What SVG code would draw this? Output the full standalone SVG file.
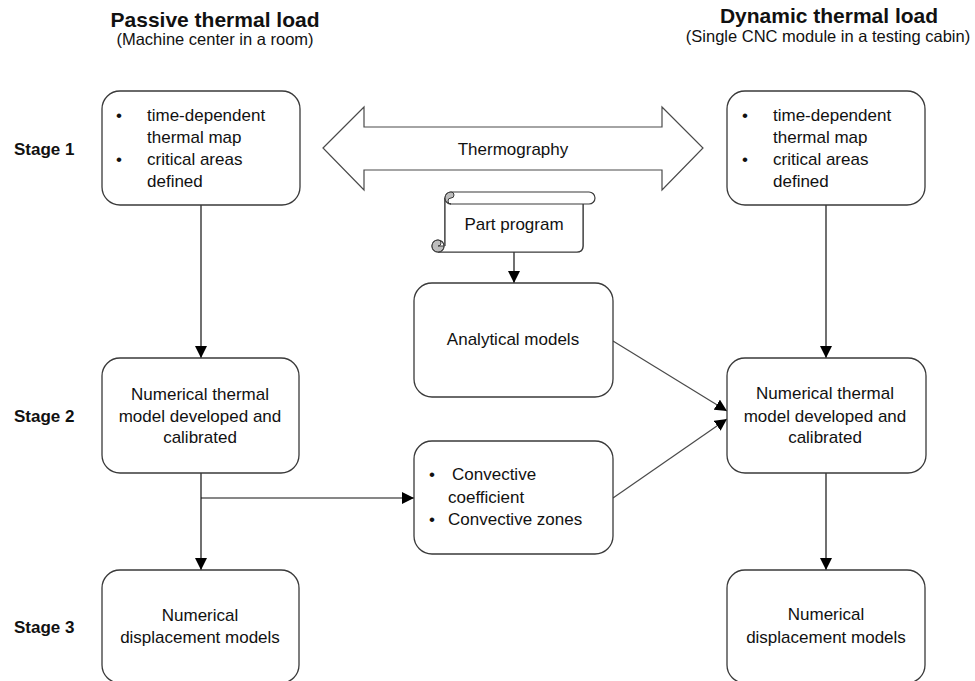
<svg xmlns="http://www.w3.org/2000/svg" width="975" height="681" viewBox="0 0 975 681">
<style>
text{font-family:"Liberation Sans",Arial,sans-serif;fill:#111;}
.t{font-size:17px;}
.c{text-anchor:middle;}
.h{font-size:21px;font-weight:bold;text-anchor:middle;}
.s{font-size:16.5px;text-anchor:middle;}
.st{font-size:17px;font-weight:bold;}
.box{fill:#fff;stroke:#3a3a3a;stroke-width:1.3;}
.ln{fill:none;stroke:#111;stroke-width:1.2;}
.dg{fill:none;stroke:#4a4a4a;stroke-width:1.2;}
</style>
<defs>
<marker id="ah" markerUnits="userSpaceOnUse" markerWidth="13" markerHeight="12" refX="12" refY="6" orient="auto">
<path d="M0,0 L12,6 L0,12 z" fill="#000"/>
</marker>
</defs>
<rect width="975" height="681" fill="#fff"/>

<g id="headers">
<text class="h" x="215" y="27">Passive thermal load</text>
<text class="s" x="215" y="45">(Machine center in a room)</text>
<text class="h" x="829" y="23">Dynamic thermal load</text>
<text class="s" x="828" y="42">(Single CNC module in a testing cabin)</text>
</g>

<g id="stages">
<text class="st" x="14" y="155">Stage 1</text>
<text class="st" x="14" y="422">Stage 2</text>
<text class="st" x="14" y="633">Stage 3</text>
</g>

<g id="connectors">
<line class="ln" x1="201" y1="205" x2="201" y2="358" marker-end="url(#ah)"/>
<line class="ln" x1="201" y1="473" x2="201" y2="570" marker-end="url(#ah)"/>
<line class="ln" x1="201" y1="498" x2="414" y2="498" marker-end="url(#ah)"/>
<line class="ln" x1="826" y1="205" x2="826" y2="358" marker-end="url(#ah)"/>
<line class="ln" x1="826" y1="473" x2="826" y2="570" marker-end="url(#ah)"/>
<line class="ln" x1="514" y1="252" x2="514" y2="283" marker-end="url(#ah)"/>
<line class="dg" x1="613" y1="341" x2="727" y2="411" marker-end="url(#ah)"/>
<line class="dg" x1="613" y1="498" x2="727" y2="419" marker-end="url(#ah)"/>
</g>

<g id="thermography">
<polygon points="323,148 364,107 364,127 662,127 662,107 703,148 662,190 662,170 364,170 364,190" fill="#fff" stroke="#4a4a4a" stroke-width="1.2"/>
<text class="t c" x="513" y="155">Thermography</text>
</g>

<g id="part-program">
<path d="M445,198 L445,240 M445,240 L445,246 M438,252 L577,252 Q583,252 583,246 L583,204" fill="none" stroke="#3a3a3a" stroke-width="1.2"/>
<path d="M445,198 L445,246 L438,246 L438,252 L577,252 Q583,252 583,246 L583,204 L451,204 Z" fill="#fff" stroke="none"/>
<path d="M445,198 L445,246 M438,252 L577,252 Q583,252 583,246 L583,204" fill="none" stroke="#3a3a3a" stroke-width="1.2"/>
<path d="M451,192 L589,192 A6,6 0 0 1 589,204 L451,204 A6,6 0 0 1 451,192 Z" fill="#fff" stroke="#3a3a3a" stroke-width="1.2"/>
<path d="M451,198 A3,3 0 0 0 451,204 A6,6 0 0 1 451,192 A3,3 0 0 1 451,198 Z" fill="#bdbdbd" stroke="#3a3a3a" stroke-width="1"/>
<circle cx="438" cy="246" r="6" fill="#fff" stroke="#3a3a3a" stroke-width="1.2"/>
<path d="M438,246 L444,246 A6,6 0 0 1 438,252 A6,6 0 0 1 432,246 A6,6 0 0 1 438,240 A3,3 0 0 1 438,246 Z" fill="#bdbdbd" stroke="#3a3a3a" stroke-width="1"/>
<text class="t c" x="514" y="230">Part program</text>
</g>

<g id="p-stage1">
<rect class="box" x="102" y="91" width="198" height="114" rx="18"/>
<text class="t c" x="119" y="121">•</text>
<text class="t" x="147" y="121">time-dependent</text>
<text class="t" x="147" y="143">thermal map</text>
<text class="t c" x="119" y="165">•</text>
<text class="t" x="147" y="165">critical areas</text>
<text class="t" x="147" y="187">defined</text>
</g>

<g id="d-stage1">
<rect class="box" x="727" y="91" width="198" height="114" rx="18"/>
<text class="t c" x="745" y="121">•</text>
<text class="t" x="773" y="121">time-dependent</text>
<text class="t" x="773" y="143">thermal map</text>
<text class="t c" x="745" y="165">•</text>
<text class="t" x="773" y="165">critical areas</text>
<text class="t" x="773" y="187">defined</text>
</g>

<g id="analytical">
<rect class="box" x="414" y="283" width="199" height="114" rx="18"/>
<text class="t c" x="513" y="345">Analytical models</text>
</g>

<g id="convective">
<rect class="box" x="414" y="441" width="199" height="113" rx="18"/>
<text class="t c" x="432" y="480">•</text>
<text class="t" x="452" y="480">Convective</text>
<text class="t" x="448" y="503">coefficient</text>
<text class="t c" x="432" y="525">•</text>
<text class="t" x="448" y="525">Convective zones</text>
</g>

<g id="p-stage2">
<rect class="box" x="102" y="358" width="197" height="115" rx="18"/>
<text class="t c" x="200" y="400">Numerical thermal</text>
<text class="t c" x="200" y="422">model developed and</text>
<text class="t c" x="200" y="443">calibrated</text>
</g>

<g id="d-stage2">
<rect class="box" x="727" y="358" width="199" height="115" rx="18"/>
<text class="t c" x="825" y="399">Numerical thermal</text>
<text class="t c" x="825" y="422">model developed and</text>
<text class="t c" x="825" y="443">calibrated</text>
</g>

<g id="p-stage3">
<rect class="box" x="102" y="570" width="197" height="113" rx="18"/>
<text class="t c" x="200" y="621">Numerical</text>
<text class="t c" x="200" y="643">displacement models</text>
</g>

<g id="d-stage3">
<rect class="box" x="727" y="570" width="198" height="113" rx="18"/>
<text class="t c" x="826" y="620">Numerical</text>
<text class="t c" x="826" y="643">displacement models</text>
</g>
</svg>
